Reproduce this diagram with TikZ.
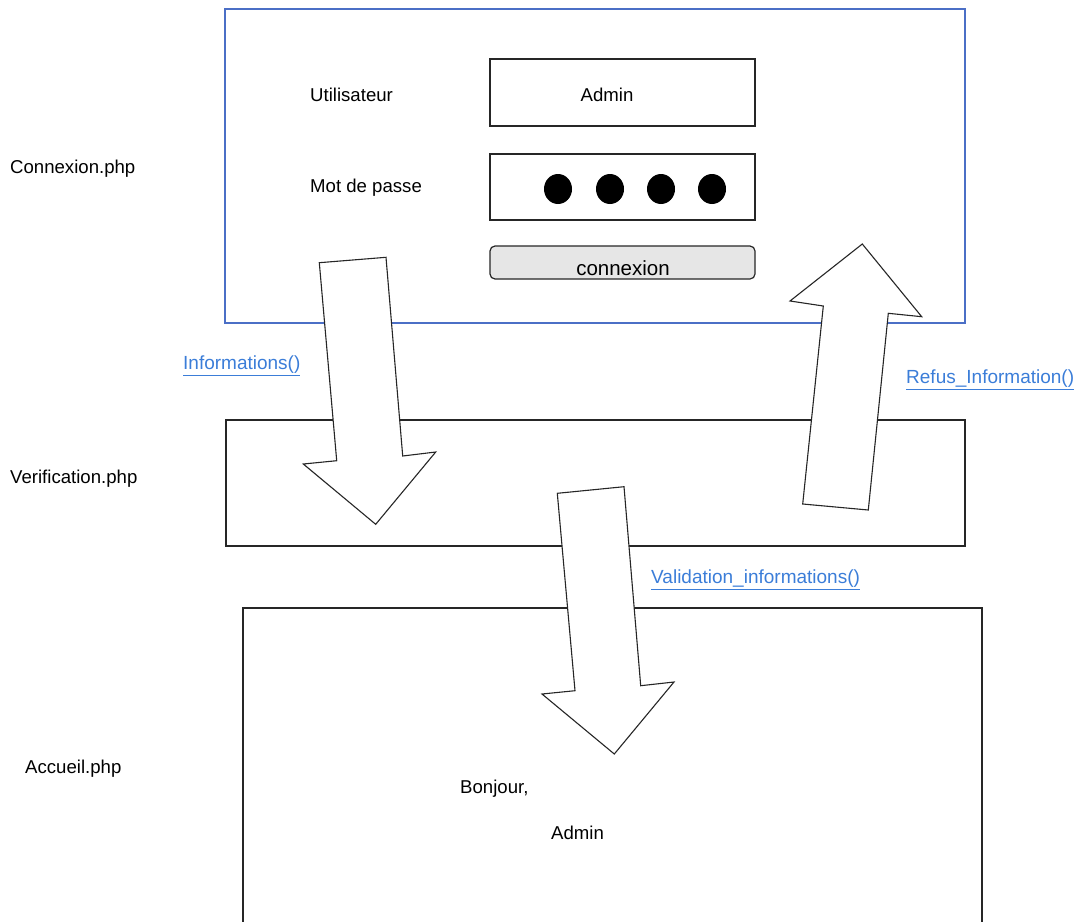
\documentclass[tikz,border=0pt]{standalone}
\usepackage{fontspec}
\setmainfont{Liberation Sans}
\definecolor{framecol}{RGB}{75,111,198}
\definecolor{linkcol}{RGB}{59,125,216}
\definecolor{btnfill}{RGB}{230,230,230}
\begin{document}
\begin{tikzpicture}[x=1pt,y=-1pt,
  txt/.style={font=\fontsize{18.6}{22}\selectfont, inner sep=0pt},
  lnk/.style={font=\fontsize{19}{22}\selectfont, inner sep=0pt, text=linkcol},
  box/.style={draw=black!85, line width=1.2pt},
  blockarrow/.style={draw=black!85, fill=white, line width=1.1pt, line join=miter}]
\useasboundingbox (0,0) rectangle (1078,921);
% page boxes
\draw[draw=framecol, line width=2pt] (225,9) rectangle (965,323);
\draw[box] (226,420) rectangle (965,546);
\draw[box] (243,925) -- (243,608) -- (982,608) -- (982,925);
% form fields
\draw[box] (490,59) rectangle (755,126);
\draw[box] (490,154) rectangle (755,220);
\draw[box, fill=btnfill, rounded corners=5pt] (490,246) rectangle (755,279);
\foreach \xx in {558,610,661,712} \fill (\xx,189) ellipse (14 and 15);
% block arrows
\draw[blockarrow] (319.3,262.7) -- (386,257.3) -- (402.7,456) -- (435.7,452) -- (375.7,524.3) -- (303.3,464) -- (336.7,460.7) -- cycle;
\draw[blockarrow] (557.3,493.3) -- (624,486.7) -- (640.7,685.7) -- (674,682) -- (614.3,754) -- (542,694) -- (575,690.7) -- cycle;
\draw[blockarrow] (862.3,244) -- (921.7,316.7) -- (888.3,313.3) -- (868.3,510) -- (802.7,504) -- (823.3,306) -- (790,301) -- cycle;
% texts
\node[txt, anchor=west] (lconn) at (10,169) {Connexion.php};
\node[txt, anchor=west] (lverif) at (10,479) {Verification.php};
\node[txt, anchor=west] (lacc) at (25,769) {Accueil.php};
\node[txt, anchor=west] (luser) at (310,95) {Utilisateur};
\node[txt, anchor=west] (lpass) at (310,188) {Mot de passe};
\node[txt] (admin) at (607,95) {Admin};
\node[txt, font=\fontsize{20.5}{24}\selectfont] (btn) at (623,268) {connexion};
\node[lnk, anchor=west] (linfo) at (183,366) {\underline{Informations()}};
\node[lnk, anchor=west] (lrefus) at (906,380) {\underline{Refus\_Information()}};
\node[lnk, anchor=west] (lvalid) at (651,580) {\underline{Validation\_informations()}};
\node[txt, anchor=west] (bonj) at (460,789) {Bonjour,};
\node[txt, anchor=west] (admin2) at (551,833) {Admin};
\end{tikzpicture}
\end{document}
